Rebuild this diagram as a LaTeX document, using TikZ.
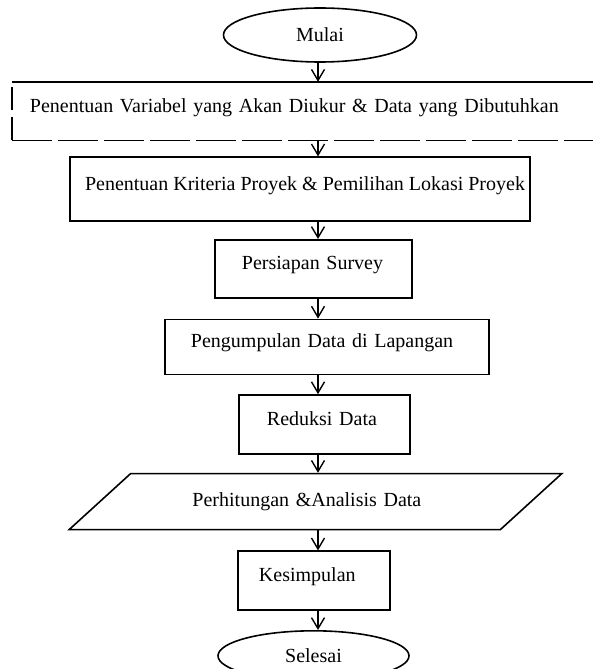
\documentclass[tikz,border=0pt]{standalone}
\usepackage{fontspec}
\setmainfont{Liberation Serif}
\usetikzlibrary{positioning,arrows.meta,shapes.geometric}

\begin{document}
\begin{tikzpicture}[
  node distance=19pt,
  font=\fontsize{20}{24}\selectfont,
  brd/.style={line width=1.6pt},
  term/.style={draw, brd, ellipse, minimum width=193pt, minimum height=54pt, inner sep=0pt},
  blk/.style={draw, brd, align=left, inner ysep=0pt, text height=14pt, text depth=12pt},
  io/.style={draw, brd, trapezium, trapezium left angle=24, trapezium right angle=156, trapezium stretches=true, minimum width=495pt, minimum height=56pt, inner sep=0pt},
  arr/.style={-{Straight Barb[length=11pt,width=13pt]}, line width=1.4pt}]
  \useasboundingbox (-320pt,35pt) rectangle (273pt,-634pt);
  \node[term] (start) at (0,0) {Mulai};
  \node[blk, draw=none, below=of start, minimum height=57pt, text width=580pt, inner xsep=17pt] (var) {Penentuan Variabel yang Akan Diukur \& Data yang Dibutuhkan};
  \node[blk, below=16pt of var, xshift=-20pt, minimum width=460pt, minimum height=64pt, align=center, inner xsep=0pt] (krit) {\hspace*{10pt}Penentuan Kriteria Proyek \& Pemilihan Lokasi Proyek};
  \node[blk, below=17pt of krit, xshift=13.5pt, minimum width=197pt, minimum height=58pt, text width=143pt, inner xsep=27pt] (siap) {Persiapan Survey};
  \node[blk, below=20pt of siap, xshift=13.5pt, minimum width=324pt, minimum height=55pt, text width=272pt, inner xsep=26pt] (kumpul) {Pengumpulan Data di Lapangan};
  \node[blk, below=of kumpul, xshift=-2.5pt, minimum width=171pt, minimum height=59pt, text width=115pt, inner xsep=28pt] (reduksi) {Reduksi Data};
  \node[io, below=18pt of reduksi, xshift=-9pt, text width=246pt, align=left] (analisis) {Perhitungan \&Analisis Data};
  \node[blk, below=20pt of analisis, xshift=-1.5pt, minimum width=152pt, minimum height=59pt, text width=110pt, inner xsep=21pt] (simpul) {Kesimpulan};
  \node[term, below=of simpul, xshift=-0.5pt, minimum width=191pt, minimum height=50pt] (stop) {Selesai};
  % box variabel: open on the right, dashed bottom
  \draw[brd] (var.north west) -- (var.north east);
  \draw[brd, dash pattern=on 23pt off 7pt] (var.south west) -- (var.north west);
  \draw[brd, dash pattern=on 40pt off 6pt] (var.south west) -- (var.south east);
  \coordinate (ax) at ([xshift=-2pt]start.south);
  \draw[arr] (start.south -| ax) -- (var.north -| ax); \draw[arr] (var.south -| ax) -- (krit.north -| ax);
  \draw[arr] (krit.south -| ax) -- (siap.north -| ax); \draw[arr] (siap.south -| ax) -- (kumpul.north -| ax);
  \draw[arr] (kumpul.south -| ax) -- (reduksi.north -| ax); \draw[arr] (reduksi.south -| ax) -- (analisis.north -| ax);
  \draw[arr] (analisis.south -| ax) -- (simpul.north -| ax); \draw[arr] (simpul.south -| ax) -- (stop.north -| ax);
\end{tikzpicture}
\end{document}
